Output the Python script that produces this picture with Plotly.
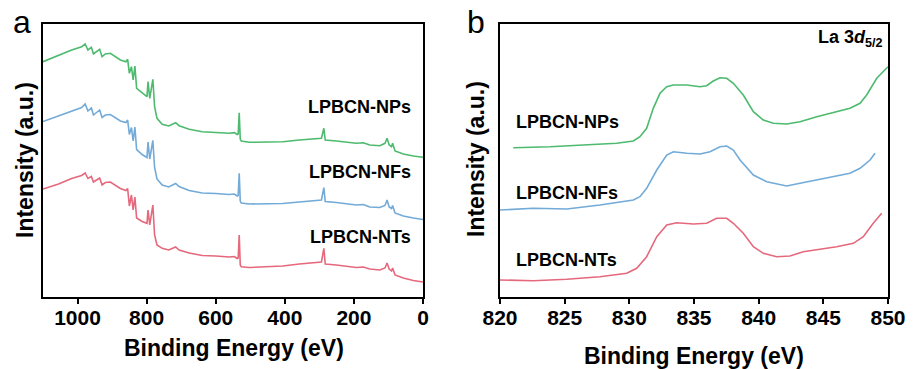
import plotly.graph_objects as go

# ---------------- data: panel a (survey) ----------------
survey_energy = [1100, 1055, 1017, 988, 978, 970, 960, 954, 945, 936, 929, 919.5, 905, 890, 876, 860, 855,
                 850, 844, 839, 834, 829, 813, 799, 796, 791, 782, 777, 770, 755, 736, 716, 706, 677, 639,
                 600, 561, 546, 538, 535, 532, 529, 526, 503, 454, 406, 358, 309, 294, 287, 283, 251, 212,
                 193, 173, 154, 125, 110, 104, 98, 91, 88, 81, 57, 28, 0]
survey_np = [235.3, 242, 247, 250.3, 253, 247, 249.7, 243, 245, 247.7, 240.3, 243, 243.7, 240.3, 237, 235.3, 237.7,
             223.7, 230.3, 217, 231, 208.7, 203.7, 200.3, 215.3, 198.7, 217.7, 190.3, 178.7, 172.7, 171, 174.3, 171.3,
             167.7, 165.3, 164.7, 163.7, 164.3, 162.5, 163, 184.3, 158, 156, 154.7, 154.7, 155.3, 157, 158, 158.7,
             168.7, 157, 156, 154.3, 153.7, 154.3, 152, 151.3, 153.7, 158.7, 152, 150.3, 153.7, 146, 143, 141, 139.7]
survey_nf = [175.5, 181, 186, 189.5, 193, 186, 189, 182, 184.5, 187, 179.5, 182, 182.5, 179.5, 176, 174.5, 177,
             162.5, 169.5, 156, 170, 147.5, 142.5, 139.5, 155, 138, 156.5, 129.5, 118, 112, 110, 113.5, 110.5,
             106.5, 104, 103.5, 102.5, 103, 101, 101.5, 123.7, 96, 94, 93, 93, 93.5, 95, 96.5, 97,
             109.3, 95.5, 94.5, 92.5, 92, 92.5, 90, 89.5, 91.5, 97, 90, 88.5, 91.5, 84, 81, 79, 77.5]
survey_nt = [108, 113, 118.5, 121.5, 124, 118.5, 120.5, 115, 117, 119, 112, 114.5, 115, 112, 108.5, 106.5, 108.5,
             91, 102, 87, 100, 79, 75.5, 73.7, 87, 72, 92, 62, 52, 48.7, 47, 50, 47,
             44, 41.5, 41, 40, 40.5, 38.5, 39, 62, 32, 30.3, 29.5, 30, 31, 33, 34, 35,
             48.7, 33, 32, 30, 29.5, 30, 28, 27, 29, 34, 28, 26, 29, 22, 19, 16.5, 15]

# ---------------- data: panel b (La 3d5/2) ----------------
la_np_energy = [821.03, 823.87, 826.44, 829.02, 830.31, 830.82, 831.34, 831.85, 832.37, 832.89, 833.40, 834.44,
                835.46, 835.98, 836.49, 837.01, 837.53, 838.04, 838.81, 839.59, 840.36, 841.13, 842.17, 843.20,
                844.49, 845.77, 847.06, 847.84, 848.35, 849.13, 849.90, 850.0]
la_np = [149.3, 150.3, 152, 153.7, 156, 160.3, 168.7, 188.7, 203.7, 210.3, 212, 212, 210.3, 211.3, 216, 219.3,
         218.7, 213.7, 202, 185.3, 177, 173.7, 173, 175.3, 180.3, 184.7, 188.7, 193.7, 202, 218.7, 228.7, 230.3]

la_nf_energy = [820.0, 822.57, 825.16, 827.73, 830.31, 830.82, 831.34, 832.12, 832.89, 833.40, 834.44, 835.46,
                836.24, 837.01, 837.53, 838.04, 838.56, 839.59, 840.62, 841.65, 842.17, 843.20, 844.49, 845.77,
                847.06, 847.84, 848.61, 849.0]
la_nf = [87, 88.7, 88, 92, 97, 100.3, 108.7, 127, 142, 145.3, 143.7, 143, 145.3, 150.3, 151, 147, 137, 122,
         115.3, 112, 111, 113.7, 117, 120.3, 123.7, 128.7, 137, 143.7]

la_nt_energy = [820.0, 822.57, 825.16, 827.73, 829.80, 830.57, 831.34, 832.12, 832.89, 833.66, 834.95, 835.98,
                836.75, 837.53, 838.04, 838.81, 839.59, 840.36, 841.39, 842.42, 843.45, 844.74, 846.03, 847.32,
                848.09, 848.86, 849.51]
la_nt = [17, 16.3, 17.7, 20.3, 23.7, 28.7, 40.3, 60.3, 72, 74.3, 73, 73.7, 78.7, 78.7, 73.7, 63.7, 50.3, 43.7,
         40.3, 41, 45.3, 47.7, 50.3, 53.7, 60.3, 73.7, 83.7]

series_labels = ["LPBCN-NPs", "LPBCN-NFs", "LPBCN-NTs"]
colors = ["#4dba6e", "#72aad8", "#e5687c"]

survey_tickvals = [1000, 800, 600, 400, 200, 0]
la_tickvals = [820, 825, 830, 835, 840, 845, 850]

# ---------------- figure ----------------
W, H = 914, 369
FONT = "Liberation Sans"


def px(x):
    return x / W


def py(y):
    return (H - y) / H


fig = go.Figure()
for ys, c in zip([survey_np, survey_nf, survey_nt], colors):
    fig.add_trace(go.Scatter(x=survey_energy, y=ys, mode="lines", line=dict(color=c, width=1.6),
                             xaxis="x", yaxis="y", showlegend=False, hoverinfo="skip"))
for xs, ys, c in zip([la_np_energy, la_nf_energy, la_nt_energy], [la_np, la_nf, la_nt], colors):
    fig.add_trace(go.Scatter(x=xs, y=ys, mode="lines", line=dict(color=c, width=1.6),
                             xaxis="x2", yaxis="y2", showlegend=False, hoverinfo="skip"))

axis_common = dict(showline=True, linecolor="black", linewidth=1.5, mirror=True, showgrid=False,
                   zeroline=False, automargin=False)
xfont = dict(family=FONT, size=21, color="black", weight="bold")

fig.update_layout(
    template="none",
    width=W, height=H, margin=dict(l=0, r=0, t=0, b=0, pad=0, autoexpand=False),
    paper_bgcolor="white", plot_bgcolor="white",
    xaxis=dict(domain=[px(43), px(423)], range=[1100, 0], tickvals=survey_tickvals,
               ticks="outside", ticklen=5, tickwidth=1.5, tickcolor="black", tickfont=xfont,
               ticklabelstandoff=-4, anchor="y", **axis_common),
    yaxis=dict(domain=[py(297), py(24)], range=[0, 273], showticklabels=False, ticks="",
               anchor="x", **axis_common),
    xaxis2=dict(domain=[px(500), px(888)], range=[820, 850], tickvals=la_tickvals,
                ticks="outside", ticklen=5, tickwidth=1.5, tickcolor="black", tickfont=xfont,
                ticklabelstandoff=-4, anchor="y2", **axis_common),
    yaxis2=dict(domain=[py(297), py(24)], range=[0, 273], showticklabels=False, ticks="",
                anchor="x2", **axis_common),
)

ann = []
bold = lambda s: dict(family=FONT, size=s, color="black", weight="bold")
# panel letters
ann.append(dict(text="a", x=px(22), y=py(22), font=dict(family=FONT, size=32, color="black")))
ann.append(dict(text="b", x=px(476), y=py(22), font=dict(family=FONT, size=32, color="black")))
# axis titles
ann.append(dict(text="Intensity (a.u.)", x=px(25), y=py(160), textangle=-90, font=bold(23)))
ann.append(dict(text="Intensity (a.u.)", x=px(476), y=py(159), textangle=-90, font=bold(23)))
ann.append(dict(text="Binding Energy (eV)", x=px(234), y=py(348), font=bold(23)))
ann.append(dict(text="Binding Energy (eV)", x=px(694), y=py(356), font=bold(23)))
# series labels panel a (right aligned)
for lbl, yc in zip(series_labels, [107, 172, 237]):
    ann.append(dict(text=lbl, x=px(413), y=py(yc), xanchor="right", font=bold(18)))
# series labels panel b (left aligned)
for lbl, yc in zip(series_labels, [121.7, 192.7, 260]):
    ann.append(dict(text=lbl, x=px(514), y=py(yc), xanchor="left", font=bold(18)))
ann.append(dict(text="La 3<i>d</i><sub>5/2</sub>", x=px(885), y=py(38), xanchor="right", font=bold(18)))

for a in ann:
    a.setdefault("xanchor", "center")
    a.setdefault("yanchor", "middle")
    a.update(xref="paper", yref="paper", showarrow=False)
fig.update_layout(annotations=ann)

fig.write_html("out.html")
